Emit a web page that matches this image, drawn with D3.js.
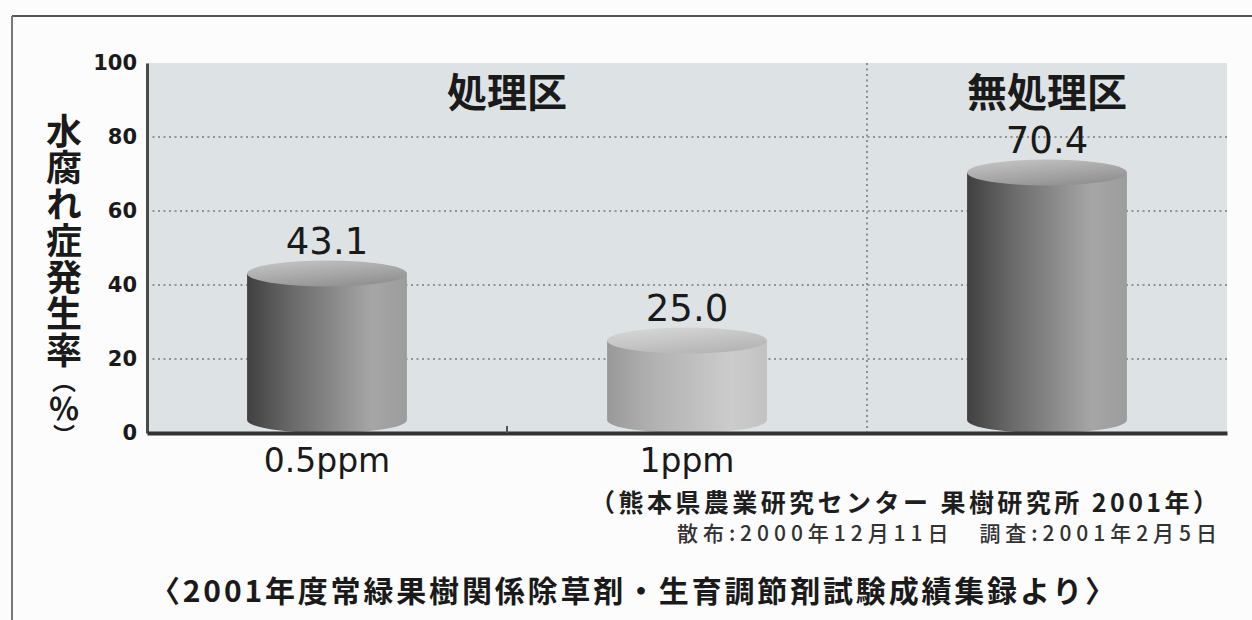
<!DOCTYPE html>
<html><head><meta charset="utf-8">
<script src="https://cdn.jsdelivr.net/npm/d3@7"></script>
<style>
body{margin:0;background:#fcfcfc;}
svg{display:block;}
.jp{font-family:"Noto Sans CJK JP","Noto Sans CJK SC",sans-serif;}
.num{font-family:"DejaVu Sans",sans-serif;}
</style>
</head><body>
<svg id="c" width="1252" height="620"></svg>
<script>
// ---- data ----
const categories = ["0.5ppm", "1ppm", "無処理区"];
const values = [43.1, 25.0, 70.4];
const valueLabels = ["43.1", "25.0", "70.4"];
const xTickLabels = ["0.5ppm", "1ppm", ""];
const yTicks = [0, 20, 40, 60, 80, 100];
const gridTicks = [20, 40, 60, 80];
const groupNames = ["処理区", "無処理区"];
const groupMembers = [["0.5ppm", "1ppm"], ["無処理区"]];
const yTitleMain = "水腐れ症発生率";
const yTitleUnit = ["（", "％", "）"];
const sourceLine1 = "（熊本県農業研究センター 果樹研究所 2001年）";
const sourceLine2 = "散布:2000年12月11日　調査:2001年2月5日";
const citation = "〈2001年度常緑果樹関係除草剤・生育調節剤試験成績集録より〉";

// ---- styles ----
const cylStyles = [
  {side: ["#404040", "#6c6c6c", "#a6a6a6", "#9c9c9c"], top: ["#929292", "#c8c8c8"]},
  {side: ["#999999", "#b2b2b2", "#cccccc", "#c2c2c2"], top: ["#b5b5b5", "#dadada"]},
  {side: ["#404040", "#6c6c6c", "#a6a6a6", "#9c9c9c"], top: ["#929292", "#c8c8c8"]}
];
const unitSizes = [24, 31, 22];

const svg = d3.select("#c");
const W = 1252, H = 620;
const plot = {left: 147, right: 1227, top: 63, bottom: 433};

const x = d3.scaleBand().domain(categories).range([plot.left, plot.right]).padding(0);
const y = d3.scaleLinear().domain([0, 100]).range([plot.bottom, plot.top]);

// outer frame (top and left edges)
svg.append("line").attr("x1", 12).attr("x2", W).attr("y1", 16).attr("y2", 16)
  .attr("stroke", "#555").attr("stroke-width", 2);
svg.append("line").attr("x1", 12).attr("x2", 12).attr("y1", 16).attr("y2", H)
  .attr("stroke", "#777").attr("stroke-width", 2);

// plot background
svg.append("rect").attr("x", plot.left).attr("y", plot.top)
  .attr("width", plot.right - plot.left).attr("height", plot.bottom - plot.top)
  .attr("fill", "#dde3e5");

// gridlines
svg.append("g").selectAll("line").data(gridTicks).join("line")
  .attr("x1", plot.left).attr("x2", plot.right)
  .attr("y1", d => y(d)).attr("y2", d => y(d))
  .attr("stroke", "#7a7a7a").attr("stroke-width", 1.6).attr("stroke-dasharray", "2,3.5");

// group separator (dotted vertical)
const sepX = x(groupMembers[0][groupMembers[0].length - 1]) + x.bandwidth();
svg.append("line").attr("x1", sepX).attr("x2", sepX).attr("y1", plot.top).attr("y2", plot.bottom)
  .attr("stroke", "#7a7a7a").attr("stroke-width", 1.6).attr("stroke-dasharray", "2,3.5");

// gradients
const defs = svg.append("defs");
cylStyles.forEach((s, i) => {
  const g = defs.append("linearGradient").attr("id", "side" + i).attr("x1", 0).attr("x2", 1).attr("y1", 0).attr("y2", 0);
  [0, 0.3, 0.78, 1].forEach((o, k) => g.append("stop").attr("offset", o).attr("stop-color", s.side[k]));
  const t = defs.append("linearGradient").attr("id", "top" + i).attr("x1", 0).attr("x2", 0.6).attr("y1", 0).attr("y2", 1);
  t.append("stop").attr("offset", 0).attr("stop-color", s.top[1]);
  t.append("stop").attr("offset", 1).attr("stop-color", s.top[0]);
});

// cylinders
const cw = x.bandwidth() * 0.444;
const rx = cw / 2, ry = 13;
const cyl = svg.append("g").selectAll("g").data(categories).join("g");
cyl.append("path")
  .attr("d", (d, i) => {
    const cx = x(d) + x.bandwidth() / 2;
    const yt = y(values[i]);
    const yb = y(0) - ry;
    return `M${cx - rx},${yt} L${cx - rx},${yb} A${rx},${ry} 0 0 0 ${cx + rx},${yb} L${cx + rx},${yt} Z`;
  })
  .attr("fill", (d, i) => `url(#side${i})`);
cyl.append("ellipse")
  .attr("cx", d => x(d) + x.bandwidth() / 2)
  .attr("cy", (d, i) => y(values[i]))
  .attr("rx", rx).attr("ry", ry)
  .attr("fill", (d, i) => `url(#top${i})`);

// value labels
svg.append("g").selectAll("text").data(categories).join("text")
  .attr("class", "num")
  .attr("x", d => x(d) + x.bandwidth() / 2)
  .attr("y", (d, i) => y(values[i]) - 20)
  .attr("text-anchor", "middle")
  .attr("font-size", 37)
  .attr("fill", "#1a1a1a")
  .text((d, i) => valueLabels[i]);

// group labels
svg.append("g").selectAll("text").data(groupNames).join("text")
  .attr("class", "jp")
  .attr("x", (d, i) => {
    const m = groupMembers[i];
    return (x(m[0]) + x(m[m.length - 1]) + x.bandwidth()) / 2;
  })
  .attr("y", 107)
  .attr("text-anchor", "middle")
  .attr("font-size", 40).attr("font-weight", 700)
  .attr("fill", "#1a1a1a")
  .text(d => d);

// y axis
const yAxis = svg.append("g").attr("transform", `translate(${plot.left},0)`)
  .call(d3.axisLeft(y).tickValues(yTicks).tickSize(0).tickPadding(10));
yAxis.select(".domain").attr("stroke", "#4a4a4a").attr("stroke-width", 3);
yAxis.selectAll("text").attr("class", "num").attr("font-size", 21).attr("font-weight", 700)
  .attr("fill", "#1a1a1a");

// x axis
const xAxis = svg.append("g").attr("transform", `translate(0,${plot.bottom})`)
  .call(d3.axisBottom(x).tickSize(0).tickPadding(16).tickFormat((d, i) => xTickLabels[i]));
xAxis.select(".domain").attr("stroke", "#333").attr("stroke-width", 4);
xAxis.selectAll("text").attr("class", "num").attr("font-size", 33).attr("fill", "#1a1a1a");

// small tick between categories within the first group
const innerX = x(groupMembers[0][0]) + x.bandwidth();
svg.append("line").attr("x1", innerX).attr("x2", innerX).attr("y1", plot.bottom - 7).attr("y2", plot.bottom)
  .attr("stroke", "#555").attr("stroke-width", 2);

// y title (vertical writing)
const title = svg.append("text").attr("class", "jp")
  .attr("x", 64).attr("y", 113)
  .style("writing-mode", "vertical-rl")
  .style("text-orientation", "upright")
  .attr("font-weight", 700).attr("fill", "#1a1a1a");
title.append("tspan").attr("font-size", 36).attr("letter-spacing", 0.5).text(yTitleMain);
yTitleUnit.forEach((u, i) => {
  title.append("tspan").attr("font-size", unitSizes[i]).attr("font-weight", 700).text(u);
});

// source lines
svg.append("text").attr("class", "jp")
  .attr("x", 1218).attr("y", 512).attr("text-anchor", "end")
  .attr("font-size", 25).attr("font-weight", 700).attr("fill", "#1e1e1e")
  .attr("textLength", 628).attr("lengthAdjust", "spacing")
  .text(sourceLine1);
svg.append("text").attr("class", "jp")
  .attr("x", 1217).attr("y", 541).attr("text-anchor", "end")
  .attr("font-size", 21).attr("font-weight", 500).attr("fill", "#333")
  .attr("textLength", 540).attr("lengthAdjust", "spacing")
  .text(sourceLine2);

// citation
svg.append("text").attr("class", "jp")
  .attr("x", 150).attr("y", 602)
  .attr("font-size", 30).attr("font-weight", 700).attr("fill", "#1a1a1a")
  .attr("textLength", 965).attr("lengthAdjust", "spacing")
  .text(citation);
</script>
</body></html>
